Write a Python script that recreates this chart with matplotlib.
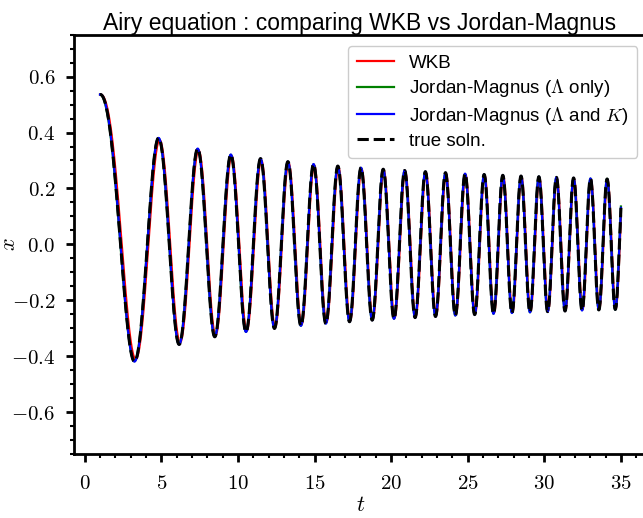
import numpy as np
import matplotlib
matplotlib.use("Agg")
import matplotlib.pyplot as plt
from matplotlib.ticker import MultipleLocator, FuncFormatter

# values
t_start, t_end = 1.0, 35.0
x_start = 0.536        # x(1)
dxdt_start = 0.010     # x'(1), curve starts near a peak
magnus_step = 0.5      # coarse step for the "Lambda only" curve

x_ticks = [0, 5, 10, 15, 20, 25, 30, 35]
y_ticks = [-0.6, -0.4, -0.2, 0.0, 0.2, 0.4, 0.6]

labels = ["WKB", r"Jordan-Magnus ($\Lambda$ only)",
          r"Jordan-Magnus ($\Lambda$ and $K$)", "true soln."]
colors = ["red", "green", "blue", "black"]

plt.rcParams["mathtext.fontset"] = "cm"
plt.rcParams["font.family"] = ["Liberation Sans", "DejaVu Sans"]

# Airy equation x'' + t x = 0
t = np.linspace(t_start, t_end, 6000)


def rk4(ts, x0, v0):
    out = np.empty_like(ts)
    x, v = x0, v0
    out[0] = x
    for i in range(len(ts) - 1):
        h = ts[i + 1] - ts[i]
        t0 = ts[i]
        k1x, k1v = v, -t0 * x
        k2x, k2v = v + h / 2 * k1v, -(t0 + h / 2) * (x + h / 2 * k1x)
        k3x, k3v = v + h / 2 * k2v, -(t0 + h / 2) * (x + h / 2 * k2x)
        k4x, k4v = v + h * k3v, -(t0 + h) * (x + h * k3x)
        x = x + h / 6 * (k1x + 2 * k2x + 2 * k3x + k4x)
        v = v + h / 6 * (k1v + 2 * k2v + 2 * k3v + k4v)
        out[i + 1] = x
    return out


x_true = rk4(t, x_start, dxdt_start)

# WKB: t^(-1/4) (A cos phi + B sin phi), matched at t_start
phi = 2.0 / 3.0 * t ** 1.5
amp = t ** -0.25
p0 = 2.0 / 3.0 * t_start ** 1.5
a0 = t_start ** -0.25
da0 = -0.25 * t_start ** -1.25
w0 = np.sqrt(t_start)
M = np.array([[a0 * np.cos(p0), a0 * np.sin(p0)],
              [da0 * np.cos(p0) - a0 * w0 * np.sin(p0),
               da0 * np.sin(p0) + a0 * w0 * np.cos(p0)]])
A, B = np.linalg.solve(M, [x_start, dxdt_start])
x_wkb = amp * (A * np.cos(phi) + B * np.sin(phi))

# frozen-frequency (first order Magnus) propagation with coarse steps
nodes = np.arange(t_start, t_end + magnus_step, magnus_step)
ys = [np.array([x_start, dxdt_start])]
for tn in nodes[:-1]:
    w = np.sqrt(tn + magnus_step / 2)
    c, s = np.cos(w * magnus_step), np.sin(w * magnus_step)
    P = np.array([[c, s / w], [-w * s, c]])
    ys.append(P @ ys[-1])
ys = np.array(ys)
idx = np.minimum(((t - t_start) // magnus_step).astype(int), len(nodes) - 2)
dt = t - nodes[idx]
wm = np.sqrt(nodes[idx] + magnus_step / 2)
x_lam = ys[idx, 0] * np.cos(wm * dt) + ys[idx, 1] * np.sin(wm * dt) / wm

# second order correction: use the accurate solution
x_lamk = x_true

fig = plt.figure(figsize=(6.43, 5.18), dpi=100)
ax = fig.add_axes([0.1151, 0.1236, 0.8911, 0.8094])

ax.plot(t, x_wkb, color=colors[0], lw=1.6, label=labels[0])
ax.plot(t, x_lam, color=colors[1], lw=1.6, label=labels[1])
ax.plot(t, x_lamk, color=colors[2], lw=1.6, label=labels[2])
ax.plot(t, x_true, color=colors[3], lw=2.2, ls="--", label=labels[3])

ax.set_xlim(-0.7, 36.7)
ax.set_ylim(-0.75, 0.75)
ax.set_xticks(x_ticks)
ax.set_yticks(y_ticks)
ax.xaxis.set_minor_locator(MultipleLocator(1))
ax.yaxis.set_minor_locator(MultipleLocator(0.05))
ax.xaxis.set_major_formatter(FuncFormatter(lambda v, p: r"$%d$" % v))
ax.yaxis.set_major_formatter(FuncFormatter(lambda v, p: r"$%.1f$" % v))
ax.tick_params(which="major", direction="out", length=5.5, width=2,
               labelsize=15)
ax.tick_params(axis="y", which="major", pad=8)
ax.tick_params(axis="x", which="major", pad=9)
ax.tick_params(which="minor", direction="out", length=3, width=1.5)
for sp in ax.spines.values():
    sp.set_linewidth(2)

ax.set_xlabel(r"$t$", fontsize=16)
ax.set_ylabel(r"$x$", fontsize=16, rotation=90)
ax.xaxis.set_label_coords(0.5, -0.124)
ax.yaxis.set_label_coords(-0.112, 0.5)
ax.xaxis.label.set_va("center")
ax.yaxis.label.set_va("center")
ax.yaxis.label.set_ha("center")
ax.set_title("Airy equation : comparing WKB vs Jordan-Magnus",
             fontsize=16.5, pad=1, x=(360 - 74) / 573)

ax.legend(loc="upper right", bbox_to_anchor=(0.9995, 0.995), fontsize=13.5,
          handlelength=2.0, handletextpad=0.8, borderpad=0.45,
          labelspacing=0.3, edgecolor="#cccccc", framealpha=1)

fig.savefig("out.png", dpi=100)
